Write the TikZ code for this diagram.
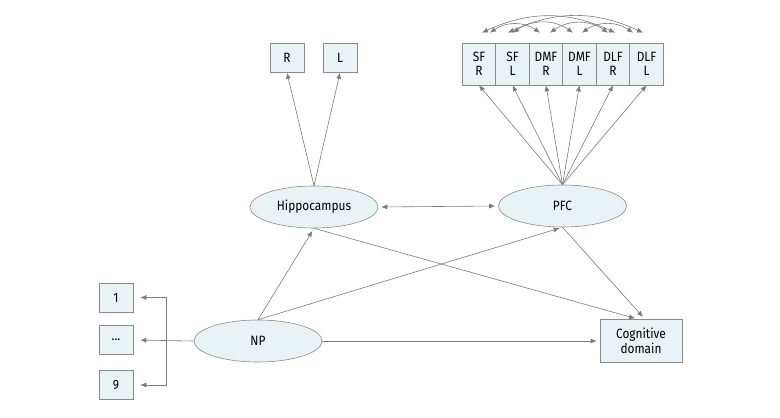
\documentclass[tikz,border=0pt]{standalone}
\usepackage{fontspec}
\setmainfont{Fira Sans}[FakeStretch=0.88]
\usepackage{xcolor}
\usetikzlibrary{positioning,arrows.meta,shapes.geometric}
\definecolor{BoxFill}{HTML}{E9F3F5}
\definecolor{EdgeGray}{HTML}{8A8A8A}
\definecolor{ArrGray}{HTML}{7A7A7A}

\begin{document}
\begin{tikzpicture}[x=1pt,y=1pt,
          font=\fontsize{13.5}{14.5}\selectfont,
          box/.style={rectangle,draw=EdgeGray,fill=BoxFill,line width=0.6pt,
                      minimum width=34pt,minimum height=29pt,inner sep=1pt,
                      align=center},
          roi/.style={box,minimum width=33.5pt,minimum height=42pt},
          latent/.style={ellipse,draw=EdgeGray,fill=BoxFill,line width=0.6pt,
                         minimum width=128pt,minimum height=42pt,inner sep=1pt},
          arr/.style={draw=ArrGray,line width=0.6pt,
                      -{Latex[length=6pt,width=5pt]}},
          dbl/.style={arr,{Latex[length=6pt,width=5pt]}-{Latex[length=6pt,width=5pt]}}]
        \useasboundingbox (0,0) rectangle (780,418);
        % latent variables
        \node[latent] (hip) at (314,211)   {Hippocampus};
        \node[latent] (pfc) at (562.5,212) {PFC};
        \node[latent] (np)  at (258,77)    {NP};
        \node[box,minimum width=82pt,minimum height=43pt] (cog) at (641,77) {Cognitive\\domain};
        % hippocampus indicators
        \node[box] (hr) at (287,360) {R};
        \node[box] (hl) at (340,360) {L};
        % PFC indicators
        \node[roi] (sfr)  at (479,354)   {SF\\R};
        \node[roi] (sfl)  at (512.5,354) {SF\\L};
        \node[roi] (dmfr) at (546,354)   {DMF\\R};
        \node[roi] (dmfl) at (579.5,354) {DMF\\L};
        \node[roi] (dlfr) at (613,354)   {DLF\\R};
        \node[roi] (dlfl) at (646.5,354) {DLF\\L};
        % NP indicators
        \node[box] (one)  at (116,120.5) {1};
        \node[box] (dots) at (116,78)    {...};
        \node[box] (nine) at (116,33)    {9};
        \coordinate (brk) at (166,77);

        % loadings
        \draw[arr] (hip.north) -- (hr.south);
        \draw[arr] (hip.north) -- (hl.south);
        \foreach \r in {sfr,sfl,dmfr,dmfl,dlfr,dlfl}
          \draw[arr] (pfc.north) -- (\r.south);
        \draw[arr,shorten >=7pt] (np.west) -- (dots.east);
        \draw[arr,shorten >=7pt] (brk) |- (one.east);
        \draw[arr,shorten >=7pt] (brk) |- (nine.east);

        % residual covariances
        \draw[dbl] ([xshift=3pt,yshift=10pt]sfr.north) to[bend left=25] ([xshift=2pt,yshift=10pt]dlfr.north);
        \draw[dbl] ([xshift=-4.5pt,yshift=10pt]sfl.north) to[bend left=25] ([xshift=-3.5pt,yshift=10pt]dlfl.north);
        \draw[dbl] ([xshift=11pt,yshift=10pt]sfr.north) to[bend left=35] ([xshift=-6pt,yshift=10pt]dmfr.north);
        \draw[dbl] ([xshift=4pt,yshift=10pt]dmfr.north) to[bend left=35] ([xshift=-5pt,yshift=10pt]dlfr.north);
        \draw[dbl] ([xshift=0.5pt,yshift=10pt]sfl.north) to[bend left=35] ([xshift=-6.5pt,yshift=10pt]dmfl.north);
        \draw[dbl] ([xshift=2.5pt,yshift=10pt]dmfl.north) to[bend left=35] ([xshift=-13.5pt,yshift=10pt]dlfl.north);

        % structural paths
        \draw[dbl,shorten <=3pt,shorten >=3pt] (hip.east) -- (pfc.west);
        \draw[arr,shorten >=3pt] (np.north) -- (hip.south);
        \draw[arr,shorten >=3pt] (np.north) -- (pfc.south);
        \draw[arr,shorten >=3pt] (hip.south) -- ([xshift=-3pt]cog.north);
        \draw[arr,shorten >=3pt] (pfc.south) -- ([xshift=4pt]cog.north);
        \draw[arr,shorten >=3pt] (np.east) -- (cog.west);
      \end{tikzpicture}
\end{document}
